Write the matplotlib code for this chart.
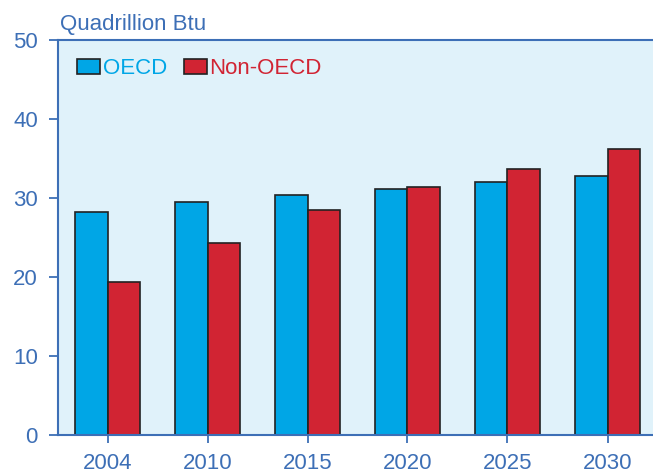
import matplotlib
matplotlib.use("Agg")
import matplotlib.pyplot as plt
import numpy as np

years = ["2004", "2010", "2015", "2020", "2025", "2030"]
oecd = [28.2, 29.5, 30.4, 31.2, 32.0, 32.8]
non_oecd = [19.4, 24.3, 28.5, 31.4, 33.7, 36.2]

blue = "#00a6e6"
red = "#d12433"
axis_col = "#3d6fb6"
bg = "#e0f2fa"

plt.rcParams['font.family'] = ['Liberation Sans', 'DejaVu Sans']

fig = plt.figure(figsize=(6.53, 4.75), dpi=100)
ax = fig.add_axes([58/653, 40/475, 595/653, 395/475])
ax.set_facecolor(bg)

x = np.arange(len(years))
w = 0.325
ax.bar(x - w/2, oecd, w, color=blue, edgecolor="#222222", linewidth=1.2, label="OECD", zorder=2)
ax.bar(x + w/2, non_oecd, w, color=red, edgecolor="#222222", linewidth=1.2, label="Non-OECD", zorder=2)

ax.set_xlim(-0.495, 5.455)
ax.set_ylim(0, 50)
ax.set_xticks(x)
ax.set_xticklabels(years)
ax.set_yticks([0, 10, 20, 30, 40, 50])

for s in ["right"]:
    ax.spines[s].set_visible(False)
for s in ["left", "bottom", "top"]:
    ax.spines[s].set_color(axis_col)
    ax.spines[s].set_linewidth(1.5)
ax.spines["left"].set_zorder(3)
ax.tick_params(axis="y", length=6.5, width=1.3, color=axis_col, labelcolor=axis_col,
               labelsize=16, pad=8, direction="out")
ax.tick_params(axis="x", length=6, width=1.3, color=axis_col, labelcolor=axis_col,
               labelsize=16, pad=7, direction="out")
for t in ax.yaxis.get_major_ticks():
    t.tick1line.set_clip_on(False)

leg = ax.legend(loc="center left", bbox_to_anchor=(19/595, 0.928), ncol=2, frameon=False,
                fontsize=16, handlelength=1.03, handleheight=0.68, handletextpad=0.13,
                columnspacing=0.75, borderpad=0, borderaxespad=0)
for txt, c in zip(leg.get_texts(), [blue, red]):
    txt.set_color(c)

fig.text(60/653, 1 - 30/475, "Quadrillion Btu", fontsize=16, color=axis_col, va="baseline")

fig.savefig("out.png", dpi=100)
